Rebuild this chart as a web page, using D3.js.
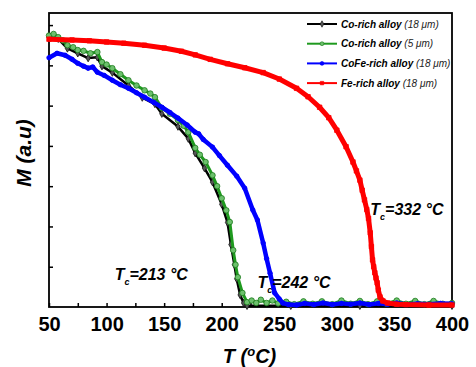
<!DOCTYPE html>
<html>
<head>
<meta charset="utf-8">
<script src="https://cdn.jsdelivr.net/npm/d3@7"></script>
<style>
    body { margin: 0; background: #fff; }
    svg { font-family: "Liberation Sans", Arial, sans-serif; }
</style>
</head>
<body>
<div id="mt_chart"></div>
<script>
// temperature ticks (deg C)
const xTicks = [50, 75, 100, 125, 150, 175, 200, 225, 250, 275, 300, 325, 350, 375, 400];
const xLabels = [50, 100, 150, 200, 250, 300, 350, 400];
const yTicks = [1, 2, 3, 4, 5, 6, 7];

const seriesNames = [
    ["Co-rich alloy ", "(18 \u03bcm)"],
    ["Co-rich alloy ", "(5 \u03bcm)"],
    ["CoFe-rich alloy ", "(18 \u03bcm)"],
    ["Fe-rich alloy ", "(18 \u03bcm)"],
];

// [T, M] (M in arbitrary units)
const coRich18 = [
    [50, 6.7], [58, 6.66], [66, 6.42], [75, 6.3], [84, 6.18], [92, 6.2], [96, 5.98],
    [105, 5.82], [119, 5.5], [131, 5.2], [142, 5.04], [148, 4.8], [162, 4.48],
    [171, 4.18], [177, 3.82], [185, 3.45], [192, 3.1], [200, 2.55], [205, 2.1],
    [208, 1.55], [211, 1.05], [213, 0.7], [216, 0.3], [219, 0.1], [222, 0.03],
    [260, 0.03], [320, 0.03], [400, 0.03],
];
const coRich5 = [
    [50, 6.74], [54, 6.78], [58, 6.7], [62, 6.62], [66, 6.5], [71, 6.45], [75, 6.38],
    [80, 6.36], [86, 6.3], [92, 6.33], [96, 6.08], [100, 6.02], [105, 5.93],
    [112, 5.78], [119, 5.63], [126, 5.5], [133, 5.38], [138, 5.3], [142, 5.21],
    [148, 4.94], [155, 4.8], [162, 4.64], [167, 4.5], [171, 4.34], [177, 3.95],
    [181, 3.78], [186, 3.6], [192, 3.27], [196, 3.0], [200, 2.7], [204, 2.4],
    [207, 2.11], [210, 1.41], [212, 1.05], [214, 0.74], [218, 0.35], [222, 0.12],
    [226, 0.16], [230, 0.1], [234, 0.18], [239, 0.1], [244, 0.16], [249, 0.09],
    [256, 0.13], [263, 0.07], [271, 0.14], [279, 0.08], [287, 0.14], [296, 0.07],
    [304, 0.16], [312, 0.08], [320, 0.15], [327, 0.07], [335, 0.14], [343, 0.08],
    [352, 0.16], [360, 0.08], [368, 0.15], [376, 0.07], [384, 0.15], [392, 0.08],
    [400, 0.1],
];
const coFeRich18 = [
    [50, 6.19], [57, 6.3], [64, 6.25], [70, 6.15], [75, 6.05], [80, 5.98], [84, 5.93],
    [88, 5.96], [92, 5.83], [98, 5.75], [105, 5.63], [112, 5.52], [119, 5.43],
    [126, 5.32], [133, 5.21], [141, 5.08], [148, 4.96], [155, 4.83], [162, 4.69],
    [170, 4.52], [177, 4.34], [180, 4.3], [184, 4.16], [192, 3.97], [198, 3.76],
    [205, 3.52], [213, 3.25], [220, 2.95], [227, 2.41], [231, 2.16], [236, 1.59],
    [239, 1.2], [242, 0.84], [246, 0.35], [250, 0.2], [253, 0.1], [258, 0.06],
    [265, 0.05], [272, 0.09], [280, 0.06], [288, 0.1], [296, 0.06], [304, 0.09],
    [312, 0.07], [320, 0.1], [328, 0.06], [336, 0.09], [344, 0.07], [352, 0.1],
    [360, 0.06], [370, 0.08], [380, 0.07], [390, 0.09], [400, 0.08],
];
const feRich18 = [
    [50, 6.65], [70, 6.63], [85, 6.61], [100, 6.58], [115, 6.55], [133, 6.5],
    [150, 6.43], [165, 6.35], [177, 6.26], [190, 6.15], [205, 6.04], [220, 5.94],
    [236, 5.82], [250, 5.66], [265, 5.43], [275, 5.22], [285, 4.96], [293, 4.7],
    [300, 4.39], [308, 3.98], [314, 3.6], [317, 3.38], [320, 3.15], [322, 2.9],
    [324, 2.66], [326, 2.42], [327.5, 2.2], [329, 1.84], [330, 1.5], [331, 1.17],
    [332, 1.0], [333, 0.85], [334, 0.72], [335, 0.6], [336, 0.42], [337.5, 0.25],
    [340, 0.15], [344, 0.1], [352, 0.07], [360, 0.06], [380, 0.05], [400, 0.05],
];

const curieLabels = [
    { t: 107, m: 0.67, text: "=213 \u00b0C" },
    { t: 231, m: 0.47, text: "=242 \u00b0C" },
    { t: 329, m: 2.28, text: "=332 \u00b0C" },
];

const dims = {
    margin: { top: 13, right: 24, bottom: 60, left: 49 },
    width: 476,
    height: 367,
};
const { width, height, margin } = dims;
const innerW = width - margin.left - margin.right;
const innerH = height - margin.top - margin.bottom;

const svg = d3
    .select("#mt_chart")
    .append("svg")
    .attr("width", width)
    .attr("height", height)
    .append("g")
    .attr("transform", `translate(${margin.left}, ${margin.top})`);

const x = d3.scaleLinear().domain([50, 400]).range([0, innerW]);
const y = d3.scaleLinear().domain([0, 7.3]).range([innerH, 0]);

const series = [
    { data: coRich18, color: "#000000", width: 2.5, mark: "diamond", size: 16, markFill: "#555", markStroke: "#111" },
    { data: coRich5, color: "#1f9a1f", width: 3, mark: "circle", size: 24, markFill: "#6cc06c", markStroke: "#1a7a1a" },
    { data: coFeRich18, color: "#0000ff", width: 4.5, mark: "circle", size: 16, markFill: "#0000ff", markStroke: "#0000ff" },
    { data: feRich18, color: "#ff0000", width: 5, mark: "square", size: 20, markFill: "#ff0000", markStroke: "#ff0000" },
];

// axes with inward ticks
svg.append("g")
    .attr("transform", `translate(0, ${innerH})`)
    .call(
        d3.axisBottom(x)
            .tickValues(xTicks)
            .tickSize(-4)
            .tickSizeOuter(0)
            .tickPadding(10)
            .tickFormat((d) => (xLabels.includes(d) ? d : ""))
    )
    .call((g) => g.select(".domain").remove())
    .call((g) => g.selectAll(".tick line").attr("stroke-width", 1.5))
    .call((g) =>
        g.selectAll("text")
            .style("font-size", "20px")
            .style("font-weight", "bold")
            .attr("fill", "#000")
    );

svg.append("g")
    .call(d3.axisLeft(y).tickValues(yTicks).tickSize(-4).tickSizeOuter(0).tickFormat(""))
    .call((g) => g.select(".domain").remove())
    .call((g) => g.selectAll(".tick line").attr("stroke-width", 1.5));

// frame
svg.append("rect")
    .attr("width", innerW)
    .attr("height", innerH)
    .attr("fill", "none")
    .attr("stroke", "#000")
    .attr("stroke-width", 1.8);

// curves
const line = d3.line().x((d) => x(d[0])).y((d) => y(d[1]));
const symbolType = { circle: d3.symbolCircle, square: d3.symbolSquare, diamond: d3.symbolDiamond };

series.forEach((s) => {
    svg.append("path")
        .datum(s.data)
        .attr("fill", "none")
        .attr("stroke", s.color)
        .attr("stroke-width", s.width)
        .attr("stroke-linejoin", "round")
        .attr("d", line);

    svg.append("g")
        .selectAll("path")
        .data(s.data)
        .join("path")
        .attr("transform", (d) => `translate(${x(d[0])}, ${y(d[1])})`)
        .attr("d", d3.symbol().type(symbolType[s.mark]).size(s.size))
        .attr("fill", s.markFill)
        .attr("stroke", s.markStroke)
        .attr("stroke-width", 0.8);
});

// legend
const legend = svg.append("g").attr("transform", `translate(${innerW - 145}, 11)`);
seriesNames.forEach((name, i) => {
    const s = series[i];
    const row = legend.append("g").attr("transform", `translate(0, ${i * 19.7})`);
    row.append("line")
        .attr("x1", 0)
        .attr("x2", 30)
        .attr("stroke", s.color)
        .attr("stroke-width", 2);
    row.append("path")
        .attr("transform", "translate(15, 0)")
        .attr("d", d3.symbol().type(symbolType[s.mark]).size(12))
        .attr("fill", s.markFill)
        .attr("stroke", s.markStroke)
        .attr("stroke-width", 0.6);
    const txt = row.append("text")
        .attr("x", 34)
        .attr("y", 3.5)
        .style("font-size", "10px")
        .style("font-style", "italic");
    txt.append("tspan").style("font-weight", "bold").text(name[0]);
    txt.append("tspan").style("font-size", "10px").attr("fill", "#222").text(name[1]);
});

// Curie temperature labels
curieLabels.forEach((c) => {
    const t = svg.append("text")
        .attr("x", x(c.t))
        .attr("y", y(c.m))
        .style("font-size", "16px")
        .style("font-weight", "bold")
        .style("font-style", "italic");
    t.append("tspan").text("T");
    t.append("tspan").attr("dy", 5).style("font-size", "9px").text("c");
    t.append("tspan").attr("dy", -5).text(c.text);
});

// axis titles
const xTitle = svg.append("text")
    .attr("x", innerW / 2 - 1)
    .attr("y", innerH + 56)
    .attr("text-anchor", "middle")
    .style("font-size", "20px")
    .style("font-weight", "bold")
    .style("font-style", "italic");
xTitle.append("tspan").text("T (");
xTitle.append("tspan").attr("dy", -7).style("font-size", "13px").text("o");
xTitle.append("tspan").attr("dy", 7).text("C)");

svg.append("text")
    .attr("transform", `translate(-18, ${innerH / 2 - 7}) rotate(-90)`)
    .attr("text-anchor", "middle")
    .style("font-size", "21px")
    .style("font-weight", "bold")
    .style("font-style", "italic")
    .text("M (a.u)");
</script>
</body>
</html>
